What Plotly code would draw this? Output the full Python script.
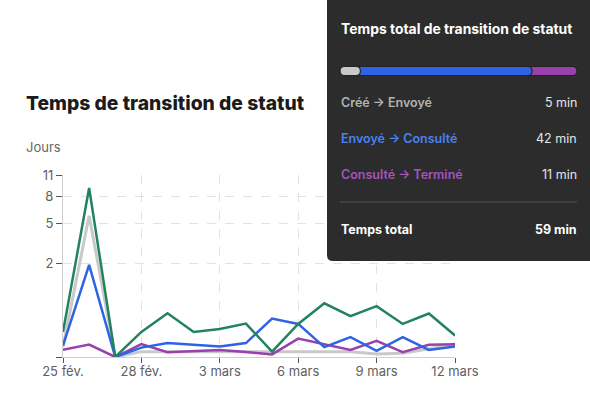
import plotly.graph_objects as go
import pandas as pd

# ---------------- data ----------------
dates = pd.date_range("2025-02-25", "2025-03-12", freq="D")
total_jours = [0.068, 9.09, 0, 0.068, 0.285, 0.068, 0.091, 0.142, 0.0013, 0.139, 0.48, 0.238, 0.419, 0.139, 0.28, 0.046]
cree_envoye = [0.0067, 5.75, 0, 0.0013, 0.0013, 0.0013, 0.0013, 0.0013, 0.0013, 0.0013, 0.0013, 0.0013, 0.0003, 0.0005, 0.0039, 0.013]
envoye_consulte = [0.009, 1.92, 0, 0.0055, 0.015, 0.011, 0.0072, 0.015, 0.204, 0.139, 0.0062, 0.038, 0.0018, 0.038, 0.0027, 0.0072]
consulte_termine = [0.0027, 0.0113, 0, 0.0123, 0.001, 0.0016, 0.0027, 0.0011, 0.0002, 0.031, 0.0123, 0.0027, 0.022, 0.001, 0.011, 0.0123]

y_ticks = [0, 2, 5, 8, 11]
y_tick_labels = ["", "2", "5", "8", "11"]
x_tick_dates = ["2025-02-25", "2025-02-28", "2025-03-03", "2025-03-06", "2025-03-09", "2025-03-12"]
x_tick_labels = ["25 fév.", "28 fév.", "3 mars", "6 mars", "9 mars", "12 mars"]

panel_title = "Temps total de transition de statut"
stage_labels = ["Créé → Envoyé", "Envoyé → Consulté", "Consulté → Terminé"]
stage_minutes = [5, 42, 11]
total_label = "Temps total"
total_minutes = 59

# ---------------- style ----------------
FONT = "Inter"
GREEN = "#22835e"
GRAY = "#c9c9c9"
BLUE = "#2d63e4"
PURPLE = "#9a40ad"
PANEL = "#232323"
K = 0.39  # power scale exponent


def tr(v):
    return v ** K


W, H = 590, 397
ML, MR, MT, MB = 63, 135, 175, 40
PW = W - ML - MR
PH = H - MT - MB


def px(x):
    return (x - ML) / PW


def py(y):
    return (H - MB - y) / PH


fig = go.Figure()
series = [
    (cree_envoye, GRAY, 3),
    (consulte_termine, PURPLE, 2.5),
    (envoye_consulte, BLUE, 2.5),
    (total_jours, GREEN, 2.5),
]
for vals, col, w in series:
    fig.add_trace(go.Scatter(
        x=dates, y=[tr(v) for v in vals], mode="lines",
        line=dict(color=col, width=w), hoverinfo="skip", showlegend=False,
    ))

shapes = []


def rounded_rect(x0, y0, x1, y1, r_bl=0):
    rx = r_bl / PW
    ry = r_bl / PH
    X0, X1 = px(x0), px(x1)
    Yt, Yb = py(y0), py(y1)
    return (f"M {X0},{Yt} L {X1},{Yt} L {X1},{Yb} L {X0+rx},{Yb} "
            f"Q {X0},{Yb} {X0},{Yb+ry} Z")


def pill(x0, x1, yc, h):
    r = h / 2
    rx = r / PW
    X0, X1 = px(x0), px(x1)
    Yt, Yb = py(yc - r), py(yc + r)
    Ym = py(yc)
    return (f"M {X0+rx},{Yt} L {X1-rx},{Yt} Q {X1},{Yt} {X1},{Ym} "
            f"Q {X1},{Yb} {X1-rx},{Yb} L {X0+rx},{Yb} Q {X0},{Yb} {X0},{Ym} "
            f"Q {X0},{Yt} {X0+rx},{Yt} Z")


shapes.append(dict(type="path", xref="paper", yref="paper",
                   path=rounded_rect(327, -2, 595, 261, r_bl=6),
                   fillcolor="rgba(35,35,35,0.96)", line=dict(width=0), layer="above"))

# progress bar
bx0, bx1, byc, bh = 340, 577, 71, 9
tot = sum(stage_minutes)
bw = bx1 - bx0
seg_cols = [GRAY, BLUE, PURPLE]
edges = [bx0]
for m in stage_minutes:
    edges.append(edges[-1] + bw * m / tot)
for i in [2, 1, 0]:
    s = edges[i] - (6 if i > 0 else 0)
    e = edges[i + 1]
    shapes.append(dict(type="path", xref="paper", yref="paper",
                       path=pill(s, e, byc, bh), fillcolor=seg_cols[i],
                       line=dict(color=PANEL, width=1.2), layer="above"))

shapes.append(dict(type="line", xref="paper", yref="paper",
                   x0=px(340), x1=px(577), y0=py(202), y1=py(202),
                   line=dict(color="#555555", width=1), layer="above"))

annotations = []


def text(t, x, y, size, color, anchor="left", weight=400):
    annotations.append(dict(text=t, x=px(x), y=py(y), xref="paper", yref="paper",
                            xanchor=anchor, yanchor="middle", showarrow=False,
                            font=dict(family=FONT, size=size, color=color, weight=weight)))


text("Temps de transition de statut", 24, 103, 19.3, "#1b1b1b", weight=800)
text("Jours", 24, 147, 13, "#666666")

text(panel_title, 339, 29, 13.9, "#ffffff", weight=700)
row_cols = ["#b3b3b3", "#4a82f2", "#a653bf"]
row_y = [102, 138, 174]
for lab, m, c, yy in zip(stage_labels, stage_minutes, row_cols, row_y):
    text(lab, 339, yy, 12.5, c, weight=600)
    text(f"{m} min", 579, yy, 12.5, "#e6e6e6", anchor="right")
text(total_label, 339, 229, 12.5, "#ffffff", weight=700)
text(f"{total_minutes} min", 579, 229, 12.5, "#ffffff", anchor="right", weight=700)

fig.update_layout(
    width=W, height=H, autosize=False,
    margin=dict(l=ML, r=MR, t=MT, b=MB, pad=0),
    paper_bgcolor="white", plot_bgcolor="white",
    font=dict(family=FONT, size=13, color="#555555"),
    shapes=shapes, annotations=annotations,
    xaxis=dict(
        type="date", range=[dates[0], dates[-1]],
        tickvals=x_tick_dates, ticktext=x_tick_labels,
        showgrid=True, gridcolor="#e2e2e2", griddash="dash", gridwidth=1,
        showline=True, linecolor="#cfcfcf", linewidth=1,
        ticks="outside", ticklen=5, tickcolor="#555555", ticklabelstandoff=-3,
        tickfont=dict(size=13, color="#606060"), zeroline=False,
    ),
    yaxis=dict(
        range=[0, tr(11)],
        tickvals=[tr(v) for v in y_ticks], ticktext=y_tick_labels,
        showgrid=True, gridcolor="#e2e2e2", griddash="dash", gridwidth=1,
        showline=True, linecolor="#cfcfcf", linewidth=1,
        ticks="outside", ticklen=6, tickcolor="#555555",
        tickfont=dict(size=13, color="#606060"), zeroline=False,
    ),
)

fig.write_html("out.html", config={"displayModeBar": False},
               post_script="document.body.style.margin='0';document.body.style.overflow='hidden';")
